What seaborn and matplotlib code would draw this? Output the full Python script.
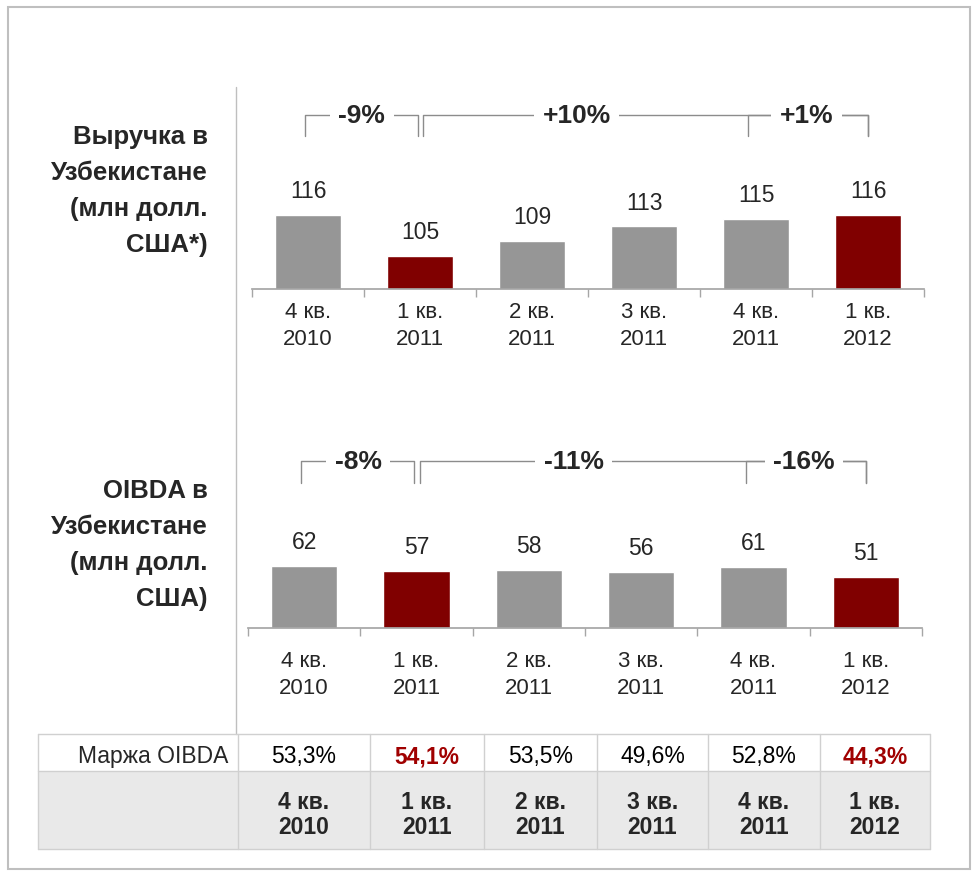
import seaborn as sns
import matplotlib.pyplot as plt
import pandas as pd
import numpy as np
from matplotlib.lines import Line2D
from matplotlib.patches import Rectangle

# data
periods = ['4 кв.\n2010', '1 кв.\n2011', '2 кв.\n2011', '3 кв.\n2011', '4 кв.\n2011', '1 кв.\n2012']
revenue = [116, 105, 109, 113, 115, 116]
oibda = [62, 57, 58, 56, 61, 51]
margin = ['53,3%', '54,1%', '53,5%', '49,6%', '52,8%', '44,3%']
highlight = [False, True, False, False, False, True]
rev_changes = ['-9%', '+10%', '+1%']
oibda_changes = ['-8%', '-11%', '-16%']
# bracket spans: (from, to, text position)
spans = [(0, 1, 0.48), (1, 5, 2.4), (4, 5, 4.45)]

RED = '#800000'
GRAY = '#969696'
LINE = '#a6a6a6'
W, H = 979, 879

sns.set_theme(style='white')
plt.rcParams['font.family'] = ['Liberation Sans', 'DejaVu Sans']


def box(l, t, r, b):
    return [l / W, 1 - b / H, (r - l) / W, (b - t) / H]


def draw_bars(ax, values, ylim, changes, br_hi, br_lo, pad):
    df = pd.DataFrame({'period': periods, 'value': values})
    colors = [RED if h else GRAY for h in highlight]
    sns.barplot(data=df, x='period', y='value', hue='period', palette=colors,
                width=0.59, saturation=1, legend=False, ax=ax)
    for c in ax.containers:
        ax.bar_label(c, fmt='%d', padding=9, fontsize=16.5)
    ax.set_xlim(-0.5, 5.5)
    ax.set_ylim(*ylim)
    ax.set_xlabel('')
    ax.set_ylabel('')
    ax.set_yticks([])
    for s in ['top', 'left', 'right']:
        ax.spines[s].set_visible(False)
    ax.spines['bottom'].set_color(LINE)
    ax.set_xticks(range(len(periods)))
    ax.set_xticklabels(periods, linespacing=1.35)
    ax.set_xticks(np.arange(-0.5, len(periods)), minor=True)
    ax.tick_params(axis='x', which='major', length=0, pad=pad, labelsize=16)
    ax.tick_params(axis='x', which='minor', bottom=True, length=6, width=1, color=LINE)

    tr = ax.get_xaxis_transform()
    offs = [(-0.03, -0.02), (0.03, 0.0), (-0.07, 0.0)]
    for (i0, i1, tx), (o0, o1) in zip(spans, offs):
        x0, x1 = i0 + o0, i1 + o1
        ax.plot([x0, x0, x1, x1], [br_lo, br_hi, br_hi, br_lo], color='#8c8c8c',
                lw=1, transform=tr, clip_on=False)
    for (i0, i1, tx), txt in zip(spans, changes):
        ax.text(tx, br_hi, txt, transform=tr, ha='center', va='center',
                fontsize=19, fontweight='bold',
                bbox=dict(facecolor='white', edgecolor='none', pad=6))


fig = plt.figure(figsize=(W / 100, H / 100), dpi=100)

ax1 = fig.add_axes(box(252, 90, 924, 290))
draw_bars(ax1, revenue, (96, 150), rev_changes, 0.87, 0.765, 9)

ax2 = fig.add_axes(box(248, 429, 922, 629))
draw_bars(ax2, oibda, (0, 200), oibda_changes, 0.835, 0.725, 16)

# left titles
fig.text(208 / W, 1 - 191 / H, 'Выручка в\nУзбекистане\n(млн долл.\nСША*)', ha='right',
         va='center', fontsize=18.5, fontweight='bold', linespacing=1.62)
fig.text(208 / W, 1 - 545 / H, 'OIBDA в\nУзбекистане\n(млн долл.\nСША)', ha='right',
         va='center', fontsize=18.5, fontweight='bold', linespacing=1.62)

# frame and separator
fig.add_artist(Rectangle((8 / W, 1 - 870 / H), 962 / W, 862 / H, fill=False,
                         edgecolor='#bfbfbf', lw=1.5, transform=fig.transFigure))
fig.add_artist(Line2D([236 / W] * 2, [1 - 88 / H, 1 - 735 / H], color='#bfbfbf', lw=1))

# margin table
cols = [38, 238, 370, 484, 597, 708, 820, 930]
rows = [735, 772, 850]
fig.add_artist(Rectangle((cols[0] / W, 1 - rows[2] / H), (cols[-1] - cols[0]) / W,
                         (rows[2] - rows[1]) / H, facecolor='#e9e9e9', edgecolor='none',
                         transform=fig.transFigure))
for r in rows:
    fig.add_artist(Line2D([cols[0] / W, cols[-1] / W], [1 - r / H] * 2, color='#d0d0d0', lw=1))
for c in cols:
    fig.add_artist(Line2D([c / W] * 2, [1 - rows[0] / H, 1 - rows[2] / H], color='#d0d0d0', lw=1))

fig.text(228 / W, 1 - 757 / H, 'Маржа OIBDA', ha='right', va='center', fontsize=16.5)
for i, (m, p, h) in enumerate(zip(margin, periods, highlight)):
    xc = (cols[i + 1] + cols[i + 2]) / 2 / W
    fig.text(xc, 1 - 757 / H, m, ha='center', va='center', fontsize=16.5,
             color='#a00000' if h else 'black', fontweight='bold' if h else 'normal')
    fig.text(xc, 1 - 815 / H, p, ha='center', va='center', fontsize=16.5,
             fontweight='bold', linespacing=1.15)

fig.savefig('out.png', dpi=100)
